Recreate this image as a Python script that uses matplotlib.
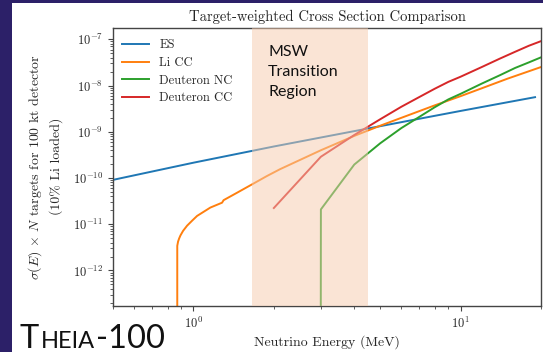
import matplotlib
matplotlib.use("Agg")
import matplotlib.pyplot as plt
from matplotlib.patches import Rectangle

plt.rcParams["font.family"] = "serif"
plt.rcParams["font.serif"] = ["cmr10"]
plt.rcParams["mathtext.fontset"] = "cm"
plt.rcParams["axes.formatter.use_mathtext"] = True

# Neutrino energy grids (MeV) and target-weighted cross sections
es_energy = [0.5, 1.0, 2.0, 5.0, 10.0, 19.0]
es_xsec = [9.1e-11, 2.14e-10, 4.8e-10, 1.32e-9, 2.82e-9, 5.6e-9]

li_energy = [0.869, 0.870, 0.876, 0.884, 0.894, 0.915, 0.947, 0.99, 1.032,
             1.157, 1.28, 1.297, 1.456, 1.655, 1.883, 2.11, 3.0, 4.0, 5.0,
             6.0, 8.0, 10.0, 12.0, 15.0, 20.0]
li_xsec = [0.0, 3.4e-12, 4.2e-12, 4.9e-12, 5.7e-12, 7.2e-12, 9.3e-12,
           1.2e-11, 1.51e-11, 2.29e-11, 2.92e-11, 3.31e-11, 4.79e-11,
           7.24e-11, 1.10e-10, 1.55e-10, 3.98e-10, 8.13e-10, 1.35e-9,
           2.0e-9, 3.72e-9, 5.89e-9, 8.71e-9, 1.41e-8, 2.51e-8]

dnc_energy = [2.0, 3.0, 4.0, 5.0, 6.0, 7.0, 8.0, 9.0, 10.0, 12.0, 14.0,
              16.0, 18.0, 20.0]
dnc_xsec = [0.0, 2.09e-11, 1.95e-10, 5.62e-10, 1.20e-9, 2.09e-9, 3.39e-9,
            5.01e-9, 6.61e-9, 1.10e-8, 1.66e-8, 2.40e-8, 3.16e-8, 4.07e-8]

dcc_energy = [2.0, 3.0, 4.0, 5.0, 6.0, 7.0, 8.0, 9.0, 10.0, 12.0, 14.0,
              16.0, 18.0, 20.0]
dcc_xsec = [2.24e-11, 2.88e-10, 8.51e-10, 1.86e-9, 3.47e-9, 5.62e-9,
            8.51e-9, 1.20e-8, 1.55e-8, 2.51e-8, 3.80e-8, 5.37e-8, 7.24e-8,
            9.12e-8]

series_labels = ["ES", "Li CC", "Deuteron NC", "Deuteron CC"]
msw_band = (1.65, 4.5)

fig = plt.figure(figsize=(5.43, 3.52), dpi=100, facecolor="white")
ax = fig.add_axes([113 / 543, 1 - 306 / 352, 428 / 543, 278.5 / 352])

ink = "#262626"
for e, s, lab, c in zip([es_energy, li_energy, dnc_energy, dcc_energy],
                        [es_xsec, li_xsec, dnc_xsec, dcc_xsec],
                        series_labels,
                        ["#1f77b4", "#ff7f0e", "#2ca02c", "#d62728"]):
    ax.plot(e, s, color=c, lw=1.4, label=lab, zorder=2)

ax.set_xscale("log")
ax.set_yscale("log", nonpositive="clip")
ax.set_xlim(0.5, 20)
ax.set_ylim(1.7e-13, 1.8e-7)

ax.axvspan(*msw_band, color="#f7cbad", alpha=0.5, lw=0, zorder=3)

ax.set_title("Target-weighted Cross Section Comparison", fontsize=10.5,
             color=ink, pad=5)
ax.set_xlabel("Neutrino Energy (MeV)", fontsize=10, color=ink, labelpad=3)
ax.set_ylabel("$\\sigma(E)\\,\\times\\,N$ targets for 100 kt detector\n(10% Li loaded)",
              fontsize=10, color=ink, linespacing=1.5, labelpad=7)
ax.tick_params(which="both", labelsize=9, colors="#444444",
               labelcolor=ink, direction="out")
for sp in ax.spines.values():
    sp.set_color("#444444")
    sp.set_linewidth(1.0)

leg = ax.legend(loc="upper left", frameon=False, fontsize=9,
                handlelength=2.2, labelspacing=0.45,
                bbox_to_anchor=(0.0, 0.99), borderaxespad=0.3)
for t in leg.get_texts():
    t.set_color(ink)

# MSW annotation
for i, word in enumerate(["MSW", "Transition", "Region"]):
    fig.text(268 / 543, 1 - (56 + 20 * i) / 352, word, family=["Lato"],
             fontsize=11.5, color="#111111", va="baseline", ha="left",
             zorder=5)

# slide frame
fig.patches.append(Rectangle((0, 0), 11.5 / 543, 1, transform=fig.transFigure,
                             facecolor="#2c2068", edgecolor="none", zorder=10))
fig.patches.append(Rectangle((0, 1 - 3 / 352), 1, 3 / 352,
                             transform=fig.transFigure,
                             facecolor="#2c2068", edgecolor="none", zorder=10))

# small-caps detector name
renderer = fig.canvas.get_renderer()
x = 20 / 543
base = 1 - 348.5 / 352
for piece, size in [("T", 23.5), ("HEIA", 17), ("-100", 23.5)]:
    t = fig.text(x, base, piece, family=["Lato"], fontsize=size,
                 color="#111111", va="baseline", ha="left")
    bb = t.get_window_extent(renderer)
    x = bb.x1 / fig.bbox.width + 1.5 / 543

fig.savefig("out.png", dpi=100, facecolor="white")
